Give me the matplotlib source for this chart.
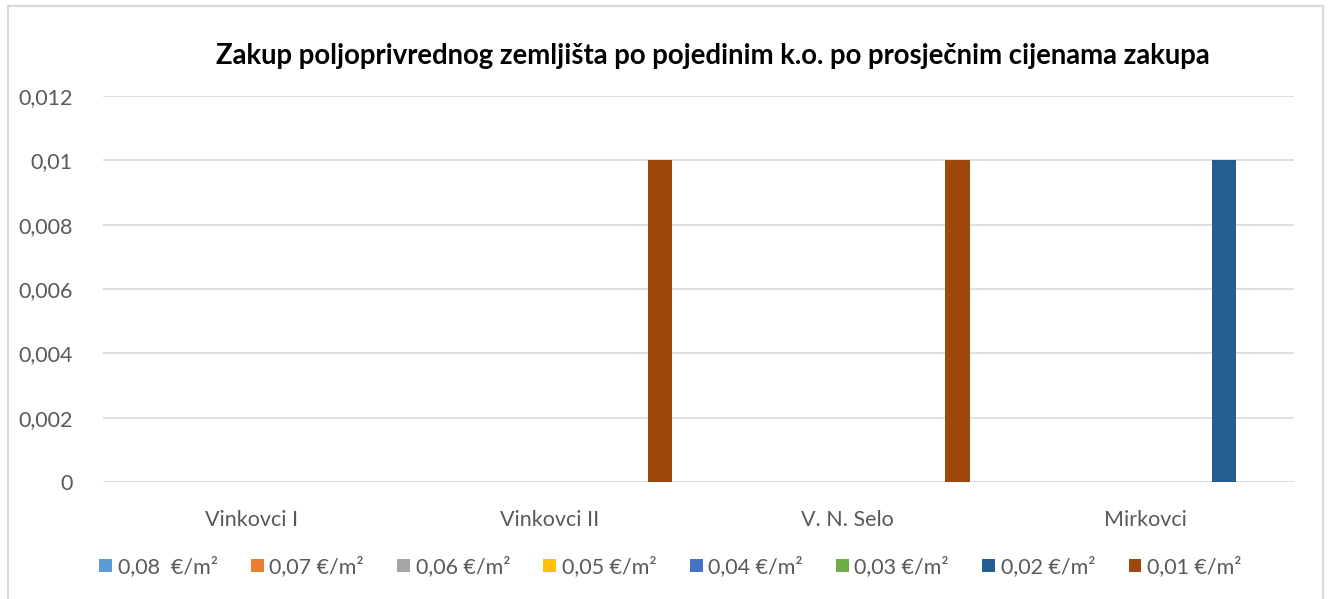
import numpy as np
import matplotlib.pyplot as plt
from matplotlib.patches import Rectangle

plt.rcParams['font.family'] = ['Lato', 'DejaVu Sans']

# k.o. categories and rent price series (€/m²)
categories = ["Vinkovci I", "Vinkovci II", "V. N. Selo", "Mirkovci"]
series_labels = ["0,08  €/m²", "0,07 €/m²", "0,06 €/m²", "0,05 €/m²",
                 "0,04 €/m²", "0,03 €/m²", "0,02 €/m²", "0,01 €/m²"]
values_008 = [0, 0, 0, 0]
values_007 = [0, 0, 0, 0]
values_006 = [0, 0, 0, 0]
values_005 = [0, 0, 0, 0]
values_004 = [0, 0, 0, 0]
values_003 = [0, 0, 0, 0]
values_002 = [0, 0, 0, 0.01]
values_001 = [0, 0.01, 0.01, 0]
yticks = [0, 0.002, 0.004, 0.006, 0.008, 0.01, 0.012]
ytick_labels = ["0", "0,002", "0,004", "0,006", "0,008", "0,01", "0,012"]

colors = ["#5B9BD5", "#ED7D31", "#A5A5A5", "#FFC000",
          "#4472C4", "#70AD47", "#255E91", "#9E480E"]
all_values = [values_008, values_007, values_006, values_005,
              values_004, values_003, values_002, values_001]

fig = plt.figure(figsize=(13.3, 5.99), dpi=100)
ax = fig.add_axes([0.0774, 0.1953, 0.8955, 0.6444])

# outer chart frame
fig.patches.append(Rectangle((8 / 1330, -0.01), 1315 / 1330, 0.9995 - 6 / 599 + 0.01,
                             transform=fig.transFigure, fill=False,
                             edgecolor="#D9D9D9", linewidth=1.5))

x = np.arange(len(categories))
step = 0.106
width = 0.083
for i, (vals, lab, col) in enumerate(zip(all_values, series_labels, colors)):
    ax.bar(x + (i - 3.5) * step, vals, width=width, color=col, label=lab, linewidth=0)

ax.set_xlim(-0.5, len(categories) - 0.5)
ax.set_ylim(0, 0.012)
ax.set_yticks(yticks)
ax.set_yticklabels(ytick_labels)
ax.set_xticks(x)
ax.set_xticklabels(categories)
ax.tick_params(axis="both", length=0, colors="#595959", labelsize=15.5)
ax.tick_params(axis="y", pad=22)
ax.tick_params(axis="x", pad=20)
ax.grid(axis="y", color="#D9D9D9", linewidth=1.2)
ax.set_axisbelow(True)
for s in ax.spines.values():
    s.set_visible(False)

fig.text(0.536, 0.906, "Zakup poljoprivrednog zemljišta po pojedinim k.o. po prosječnim cijenama zakupa",
         ha="center", va="center", fontsize=19.8, fontweight="bold", color="black")

leg = fig.legend(loc="center", bbox_to_anchor=(0.504, 0.054), ncol=8, frameon=False,
                 fontsize=15.5, handlelength=0.6, handleheight=0.6, handletextpad=0.25,
                 columnspacing=1.55)
for t in leg.get_texts():
    t.set_color("#595959")

fig.savefig("out.png", dpi=100)
